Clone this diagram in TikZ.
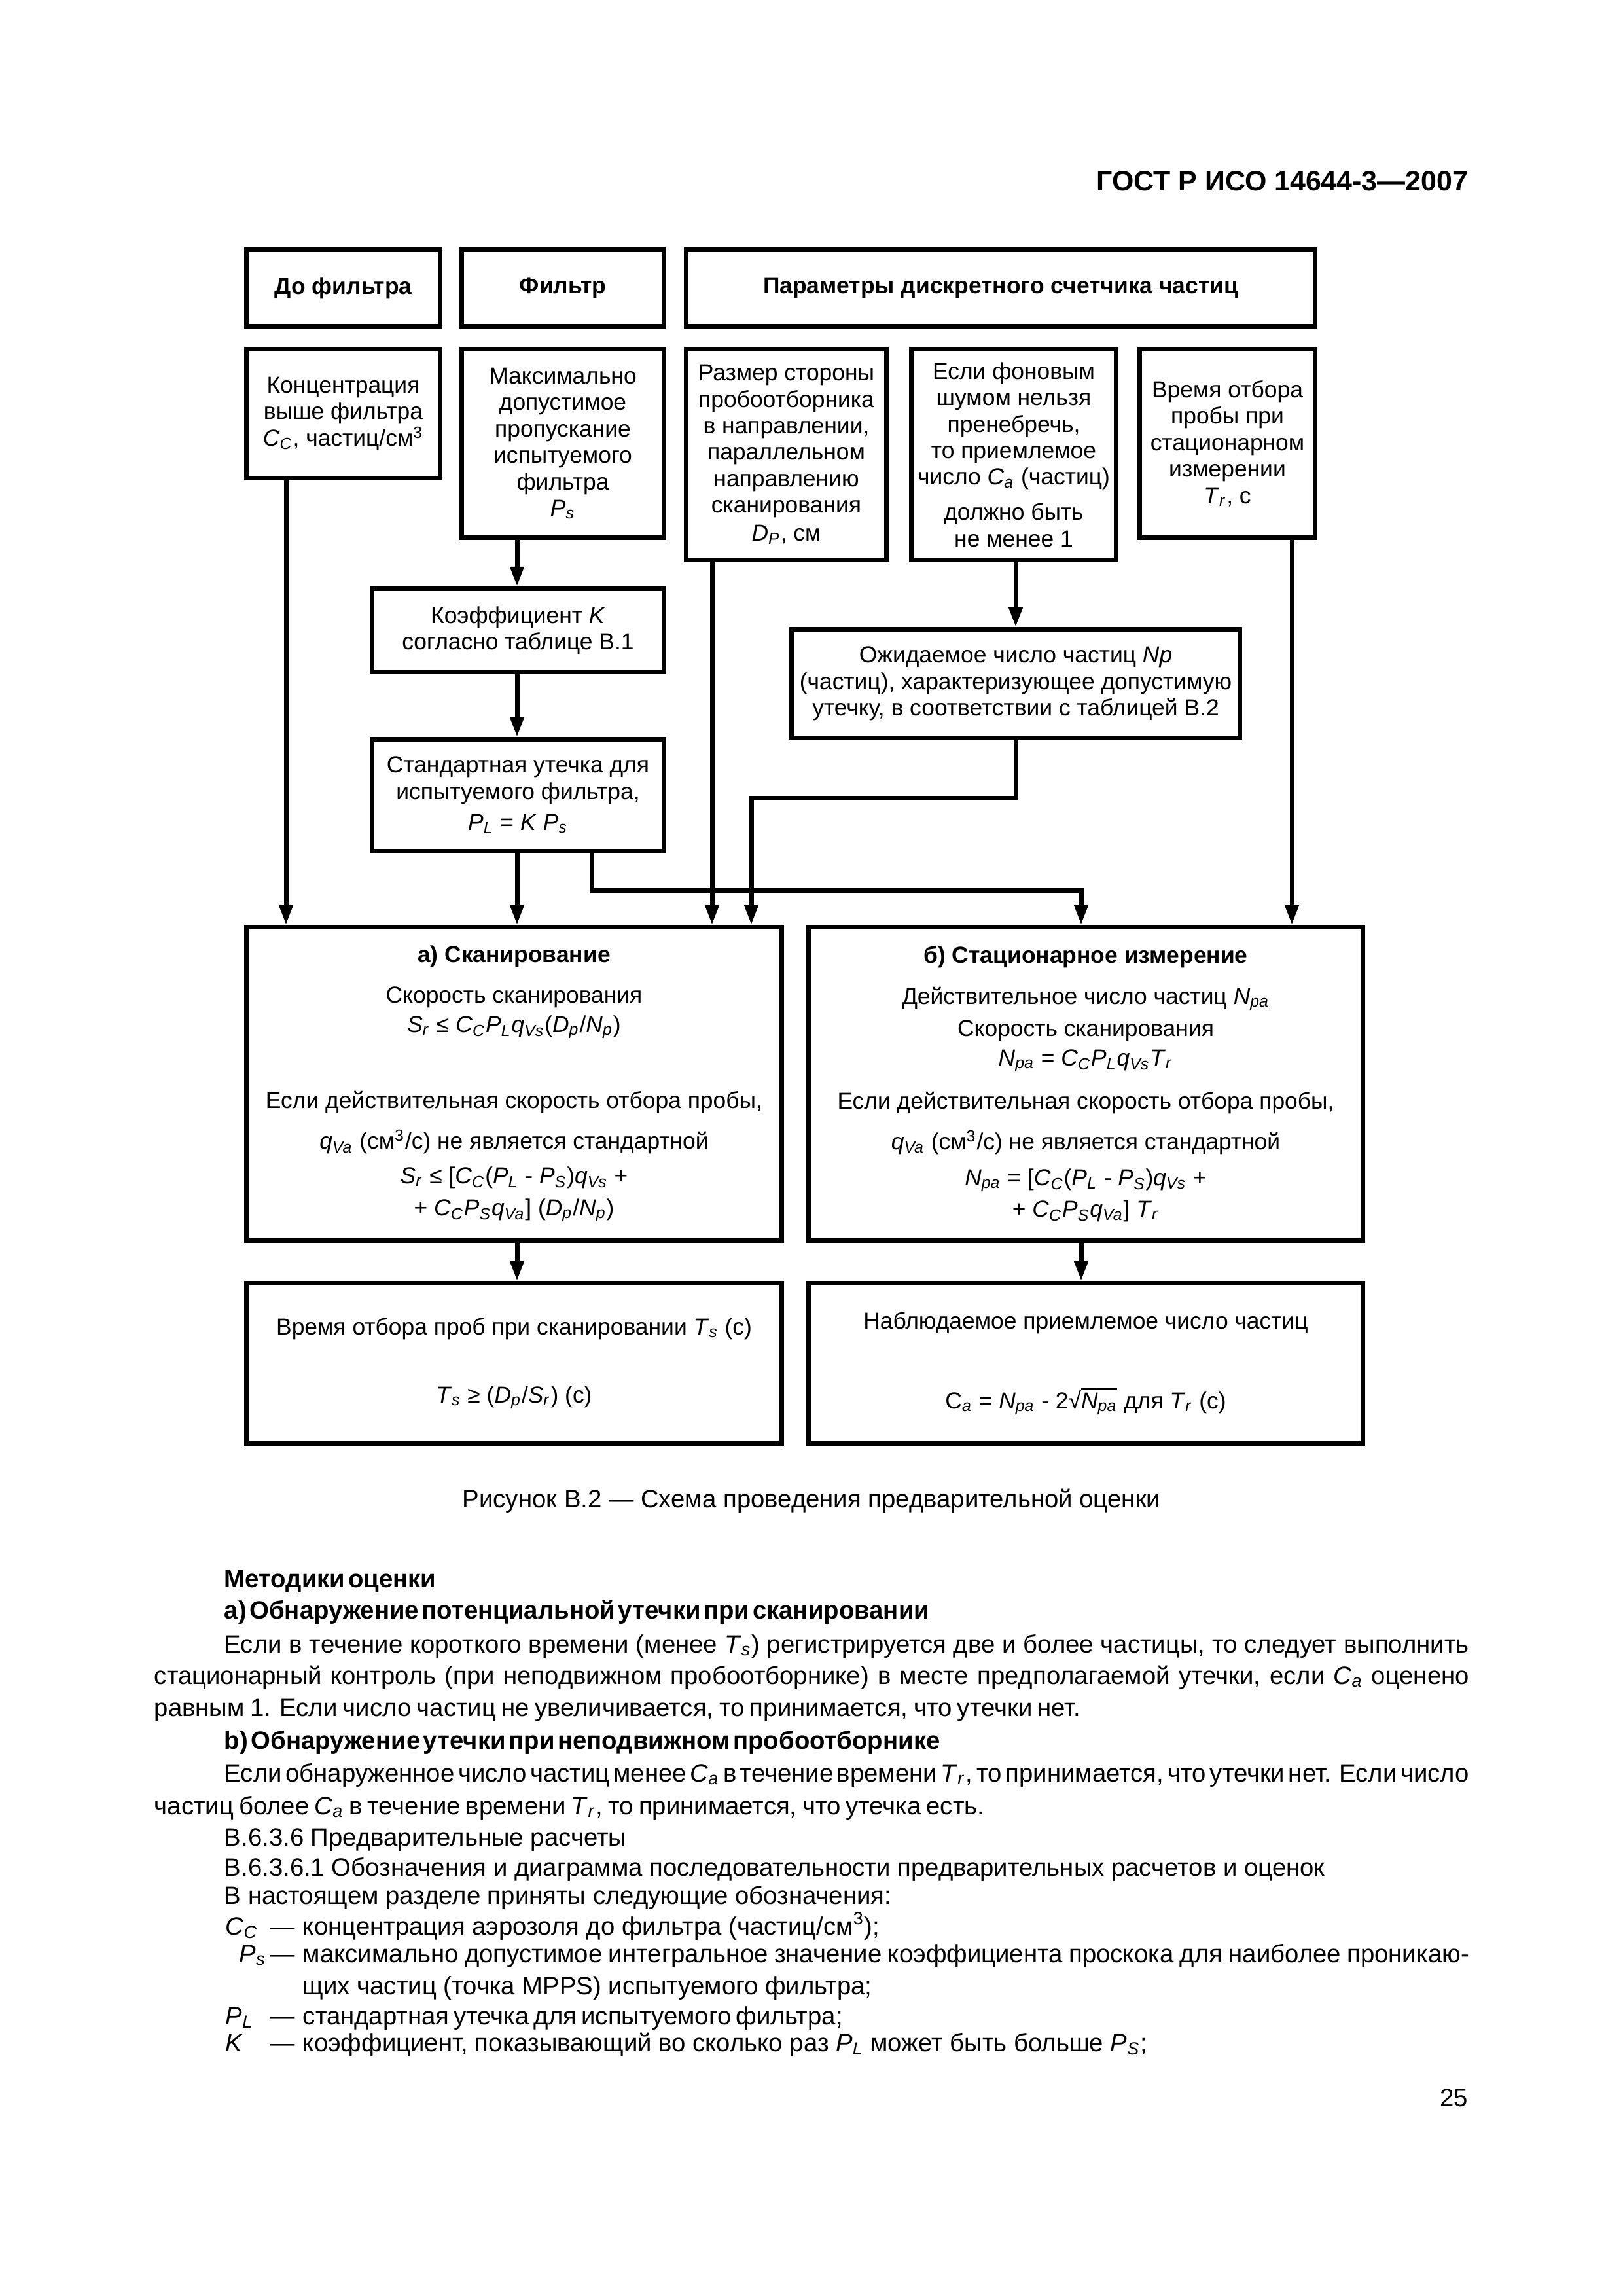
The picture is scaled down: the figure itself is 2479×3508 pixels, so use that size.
\documentclass[tikz,border=0pt]{standalone}
\usepackage{fontspec}
\setmainfont{Liberation Sans}
\usetikzlibrary{arrows.meta,calc}
\newcommand\vi[1]{\textit{#1}}
\newcommand\vs[2]{\textit{#1}\textsubscript{\textit{#2}}}
\newcommand\spw[1]{\textsuperscript{#1}}
\newcommand\figfont{\fontsize{8.5}{9.7}\selectfont\lineskiplimit=-20pt\lineskip=0pt}
\newcommand\bodyfont{\fontsize{9.2}{11}\selectfont}
\newcommand\tightbf[1]{{\bfseries\spaceskip=0.12em plus 0.05em\relax #1}}
\newcommand\jl[2]{\makebox[#1][s]{\spaceskip=0.278em plus 1em minus 0.2em\relax #2}}
\tikzset{
  box/.style={draw, line width=1.68pt, inner sep=0pt, align=center, font=\figfont},
  arr/.style={line width=1.68pt, -{Triangle[length=7.2pt,width=4.8pt]}},
  bt/.style={anchor=base west, inner sep=0pt, font=\bodyfont},
}
% [opts]{name}{x1}{y1}{x2}{y2}{text}  (outer edges, px)
\newcommand\pbox[7][]{%
  \node[box,#1,minimum width={(#5-#3-7)*0.24pt},minimum height={(#6-#4-7)*0.24pt}]
    (#2) at ({(#3+#5)/2},{(#4+#6)/2}) {#7};}
\begin{document}
\begin{tikzpicture}[x=0.24pt,y=-0.24pt]
\fill[white] (0,0) rectangle (2479,3508);
\useasboundingbox (0,0) rectangle (2479,3508);

\node[anchor=base east, inner sep=0pt, font=\fontsize{10.3}{12}\selectfont\bfseries] (hdr) at (2244,292) {ГОСТ Р ИСО 14644-3—2007};

% header row
\pbox{H1}{373}{378}{676}{502}{\bfseries До фильтра}
\pbox{H2}{702}{378}{1018}{502}{\bfseries Фильтр}
\pbox{H3}{1045}{378}{2013}{502}{\bfseries Параметры дискретного счетчика частиц}

% second row
\pbox{B1}{373}{530}{676}{734}{Концентрация\\выше фильтра\\\vs{C}{C}, частиц/см\spw{3}}
\pbox{B2}{702}{530}{1018}{825}{Максимально\\допустимое\\пропускание\\испытуемого\\фильтра\\\vs{P}{s}}
\pbox{B3}{1045}{530}{1358}{859}{Размер стороны\\пробоотборника\\в направлении,\\параллельном\\направлению\\сканирования\\[0.5pt]\vs{D}{P}, см}
\pbox{B4}{1389}{530}{1709}{859}{Если фоновым\\шумом нельзя\\пренебречь,\\то приемлемое\\число \vs{C}{a} (частиц)\\[3.2pt]должно быть\\не менее 1}
\pbox{B5}{1738}{530}{2013}{825}{Время отбора\\пробы при\\стационарном\\измерении\\\vs{T}{r}, с}

\pbox{K}{565}{896}{1018}{1030}{Коэффициент \vi{K}\\согласно таблице В.1}
\pbox{STD}{565}{1126}{1018}{1304}{Стандартная утечка для\\испытуемого фильтра,\\[1.6pt]\vs{P}{L} = \vi{K} \vs{P}{s}}
\pbox{O}{1206}{958}{1898}{1131}{Ожидаемое число частиц \vi{Np}\\(частиц), характеризующее допустимую\\утечку, в соответствии с таблицей В.2}

\pbox{SCAN}{373}{1413}{1198}{1899}{\textbf{а) Сканирование}\\[5.2pt]
Скорость сканирования\\[1.1pt]
\vs{S}{r} ≤ \vs{C}{C}\vs{P}{L}\vs{q}{Vs}(\vs{D}{p}/\vs{N}{p})\\[18.1pt]
Если действительная скорость отбора пробы,\\[5.2pt]
\vs{q}{Va} (см\spw{3}/с) не является стандартной\\[3pt]
\vs{S}{r} ≤ [\vs{C}{C}(\vs{P}{L} - \vs{P}{S})\vs{q}{Vs} +\\[2.1pt]
+ \vs{C}{C}\vs{P}{S}\vs{q}{Va}] (\vs{D}{p}/\vs{N}{p})}

\pbox{STAT}{1232}{1413}{2086}{1899}{\textbf{б) Стационарное измерение}\\[5.4pt]
Действительное число частиц \vs{N}{pa}\\[2.1pt]
Скорость сканирования\\[1.1pt]
\vs{N}{pa} = \vs{C}{C}\vs{P}{L}\vs{q}{Vs}\vs{T}{r}\\[6.1pt]
Если действительная скорость отбора пробы,\\[5.2pt]
\vs{q}{Va} (см\spw{3}/с) не является стандартной\\[3.5pt]
\vs{N}{pa} = [\vs{C}{C}(\vs{P}{L} - \vs{P}{S})\vs{q}{Vs} +\\[1.8pt]
+ \vs{C}{C}\vs{P}{S}\vs{q}{Va}] \vs{T}{r}}

\pbox{BL}{373}{1957}{1198}{2209}{Время отбора проб при сканировании \vs{T}{s} (с)\\[15.3pt]
\vs{T}{s} ≥ (\vs{D}{p}/\vs{S}{r}) (с)}
\pbox{BR}{1232}{1957}{2086}{2209}{Наблюдаемое приемлемое число частиц\\[19.5pt]
C\textsubscript{\textit{a}} = \vs{N}{pa} - 2√$\overline{\mbox{\vs{N}{pa}}}$ для \vs{T}{r} (с)}

% column coordinates
\coordinate (c1) at (437,0);
\coordinate (c2) at (790,0);
\coordinate (c3) at (1088,0);
\coordinate (c8) at (1974,0);
\coordinate (c7) at (1652,0);
\coordinate (j1) at (1148,1219);
\coordinate (j2) at (904,1360);
\coordinate (j3) at (1652,1360);

\draw[arr] (B1.south -| c1) -- (SCAN.north -| c1);
\draw[arr] (B2.south -| c2) -- (K.north -| c2);
\draw[arr] (K.south -| c2) -- (STD.north -| c2);
\draw[arr] (STD.south -| c2) -- (SCAN.north -| c2);
\draw[arr] (STD.south -| j2) -- (j2) -- (j3) -- (STAT.north -| j3);
\draw[arr] (B3.south -| c3) -- (SCAN.north -| c3);
\draw[arr] (B4.south -| O.north) -- (O.north);
\draw[arr] (O.south) |- (j1) -- (SCAN.north -| j1);
\draw[arr] (B5.south -| c8) -- (STAT.north -| c8);
\draw[arr] (SCAN.south -| c2) -- (BL.north -| c2);
\draw[arr] (STAT.south -| c7) -- (BR.north -| c7);

\node[anchor=base, inner sep=0pt, font=\bodyfont] (cap) at (1240,2303) {Рисунок В.2 — Схема проведения предварительной оценки};

% body text
\node[bt] (t1) at (342,2425) {\tightbf{Методики оценки}};
\node[bt] (t2) at (342,2473) {\tightbf{а) Обнаружение потенциальной утечки при сканировании}};
\node[bt] (t3) at (342,2525) {\jl{456.5pt}{Если в течение короткого времени (менее \vs{T}{s}) регистрируется две и более частицы, то следует выполнить}};
\node[bt] (t4) at (235,2573) {\jl{482.2pt}{стационарный контроль (при неподвижном пробоотборнике) в месте предполагаемой утечки, если \vs{C}{a} оценено}};
\node[bt] (t5) at (235,2622) {\jl{339.6pt}{равным 1. Если число частиц не увеличивается, то принимается, что утечки нет.}};
\node[bt] (t6) at (342,2672) {\tightbf{b) Обнаружение утечки при неподвижном пробоотборнике}};
\node[bt] (t7) at (342,2722) {\jl{456.5pt}{Если обнаруженное число частиц менее \vs{C}{a} в течение времени \vs{T}{r}, то принимается, что утечки нет. Если число}};
\node[bt] (t8) at (235,2772) {\jl{304.4pt}{частиц более \vs{C}{a} в течение времени \vs{T}{r}, то принимается, что утечка есть.}};
\node[bt] (t9) at (342,2820) {В.6.3.6 Предварительные расчеты};
\node[bt] (t10) at (342,2866) {В.6.3.6.1 Обозначения и диаграмма последовательности предварительных расчетов и оценок};
\node[bt] (t11) at (342,2909) {В настоящем разделе приняты следующие обозначения:};

\node[bt] (s1) at (344,2956) {\vs{C}{C}};
\node[bt] (d1) at (412,2956) {—};
\node[bt] (e1) at (462,2956) {концентрация аэрозоля до фильтра (частиц/см\spw{3});};
\node[bt] (s2) at (365,2998) {\vs{P}{s}};
\node[bt] (d2) at (412,2998) {—};
\node[bt] (e2) at (462,2998) {\jl{427.7pt}{максимально допустимое интегральное значение коэффициента проскока для наиболее проникаю-}};
\node[bt] (e3) at (462,3047) {щих частиц (точка MPPS) испытуемого фильтра;};
\node[bt] (s4) at (344,3093) {\vs{P}{L}};
\node[bt] (d4) at (412,3093) {—};
\node[bt] (e4) at (462,3093) {\jl{198pt}{стандартная утечка для испытуемого фильтра;}};
\node[bt] (s5) at (344,3134) {\vi{K}};
\node[bt] (d5) at (412,3134) {—};
\node[bt] (e5) at (462,3134) {коэффициент, показывающий во сколько раз \vs{P}{L} может быть больше \vs{P}{S};};

\node[anchor=base east, inner sep=0pt, font=\bodyfont] (pg) at (2244,3218) {25};
\end{tikzpicture}
\end{document}
